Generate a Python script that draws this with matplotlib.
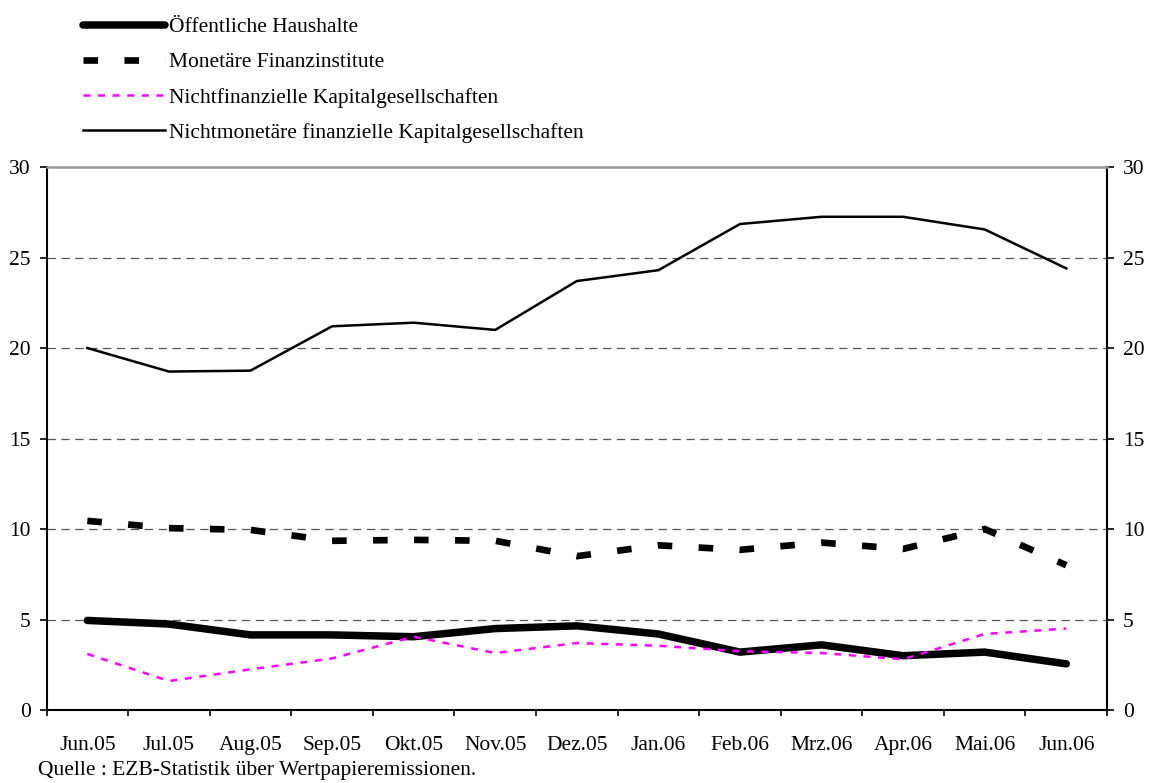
import matplotlib
matplotlib.use("Agg")
import matplotlib.pyplot as plt

plt.rcParams['font.family'] = ['Liberation Serif', 'DejaVu Serif']
plt.rcParams['lines.scale_dashes'] = False

months = ["Jun.05", "Jul.05", "Aug.05", "Sep.05", "Okt.05", "Nov.05", "Dez.05",
          "Jan.06", "Feb.06", "Mrz.06", "Apr.06", "Mai.06", "Jun.06"]
oeffentlich = [4.95, 4.75, 4.15, 4.15, 4.05, 4.5, 4.65, 4.2, 3.2, 3.6, 3.0, 3.2, 2.55]
monetaer = [10.45, 10.05, 9.95, 9.35, 9.4, 9.35, 8.5, 9.1, 8.85, 9.25, 8.9, 10.0, 8.0]
nichtfin = [3.1, 1.6, 2.25, 2.85, 4.05, 3.15, 3.7, 3.55, 3.25, 3.15, 2.8, 4.2, 4.5]
nichtmon = [20.0, 18.7, 18.75, 21.2, 21.4, 21.0, 23.7, 24.3, 26.85, 27.25, 27.25, 26.55, 24.4]

FS = 15.5

fig = plt.figure(figsize=(11.49, 7.83), dpi=100)
ax = fig.add_axes([0.0405, 0.0932, 0.923, 0.6935])

x = list(range(len(months)))
l1, = ax.plot(x, oeffentlich, color='black', lw=5.4, solid_capstyle='round',
              solid_joinstyle='round', label='Öffentliche Haushalte', zorder=4)
l2, = ax.plot(x, monetaer, color='black', lw=4.8, dash_capstyle='butt',
              label='Monetäre Finanzinstitute', zorder=3)
l2.set_dashes([10.5, 19.0])
l3, = ax.plot(x, nichtfin, color='#ff00ff', lw=1.8, dash_capstyle='butt',
              label='Nichtfinanzielle Kapitalgesellschaften', zorder=5)
l3.set_dashes([5.0, 5.5])
l4, = ax.plot(x, nichtmon, color='black', lw=1.8,
              label='Nichtmonetäre finanzielle Kapitalgesellschaften', zorder=3)

ax.set_xlim(-0.5, len(months) - 0.5)
ax.set_ylim(0, 30)
ax.set_yticks([0, 5, 10, 15, 20, 25, 30])
for yv in [5, 10, 15, 20, 25]:
    ax.axhline(yv, color='#555555', lw=0.9, dashes=(6, 4), zorder=1)

ax.set_xticks(x)
ax.set_xticklabels(months)
ax.set_xticks([i - 0.5 for i in range(len(months) + 1)], minor=True)
ax.tick_params(axis='x', which='major', length=0, pad=18.5, labelsize=FS)
ax.tick_params(axis='x', which='minor', length=4.5, width=1.2, direction='out')
ax.tick_params(axis='y', which='major', length=5, width=1.2, direction='out',
               left=True, right=True, labelleft=True, labelright=True,
               labelsize=FS, pad=6.5)

for side in ['left', 'right', 'bottom']:
    ax.spines[side].set_linewidth(1.5)
    ax.spines[side].set_color('black')
ax.spines['top'].set_color('#999999')
ax.spines['top'].set_linewidth(1.8)

fig.legend(handles=[l1, l2, l3, l4], loc='upper left', bbox_to_anchor=(0.0722, 0.978),
           frameon=False, fontsize=FS, handlelength=3.8, handletextpad=0.2,
           labelspacing=0.7, borderaxespad=0, borderpad=0)

fig.text(0.033, 0.0102, "Quelle : EZB-Statistik über Wertpapieremissionen.",
         fontsize=FS, va='baseline')

fig.savefig("out.png", dpi=100)
